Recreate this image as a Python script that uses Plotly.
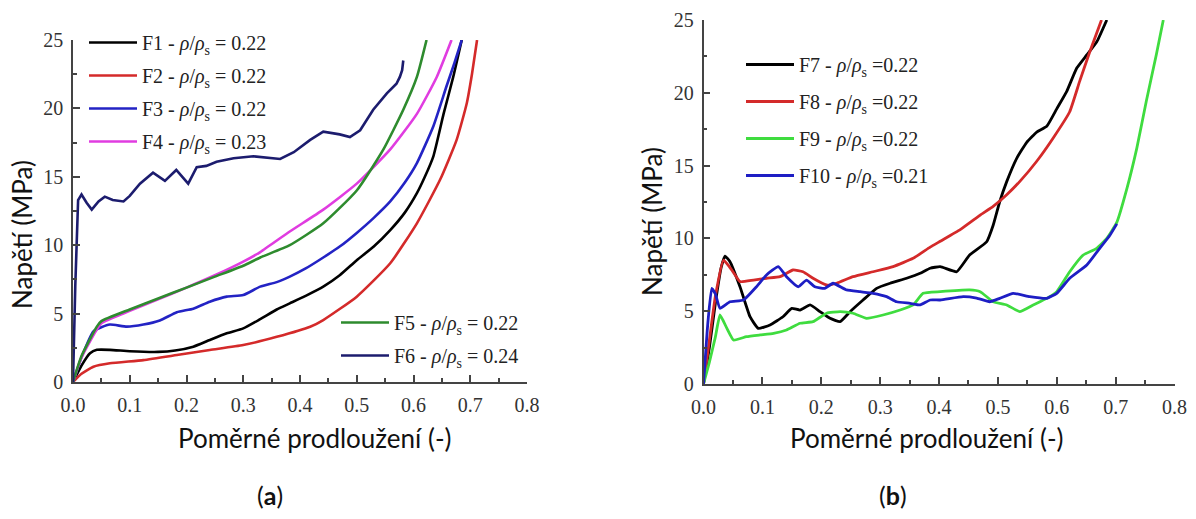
import plotly.graph_objects as go

W, H = 1196, 519

# ---------------- Panel (a) data ----------------
F1_x = [0, 0.015, 0.03, 0.042, 0.065, 0.1, 0.15, 0.18, 0.212, 0.241, 0.271, 0.3, 0.33, 0.359, 0.382, 0.41, 0.441, 0.47, 0.5, 0.53, 0.559, 0.585, 0.606, 0.62, 0.635, 0.653, 0.67, 0.685]
F1_y = [0, 1.2, 2.1, 2.35, 2.35, 2.25, 2.2, 2.3, 2.58, 3.07, 3.56, 3.92, 4.6, 5.3, 5.75, 6.3, 6.97, 7.8, 8.9, 9.9, 11.1, 12.4, 13.8, 15.0, 16.5, 19.6, 22.3, 25]

F2_x = [0, 0.015, 0.036, 0.065, 0.124, 0.183, 0.241, 0.3, 0.359, 0.418, 0.441, 0.5, 0.559, 0.606, 0.647, 0.676, 0.694, 0.703, 0.712]
F2_y = [0, 0.6, 1.12, 1.37, 1.6, 1.97, 2.34, 2.7, 3.3, 4.04, 4.53, 6.24, 8.68, 11.6, 14.8, 17.7, 20.4, 22.5, 25]

F3_x = [0, 0.015, 0.036, 0.05, 0.065, 0.095, 0.124, 0.153, 0.183, 0.212, 0.241, 0.271, 0.3, 0.33, 0.359, 0.382, 0.41, 0.441, 0.47, 0.5, 0.53, 0.559, 0.585, 0.606, 0.635, 0.658, 0.672, 0.685]
F3_y = [0, 1.8, 3.7, 4.0, 4.2, 4.05, 4.2, 4.5, 5.1, 5.36, 5.87, 6.24, 6.36, 6.97, 7.3, 7.7, 8.3, 9.1, 9.9, 10.9, 12.0, 13.2, 14.6, 16.0, 18.7, 21.6, 23.3, 25]

F4_x = [0, 0.015, 0.04, 0.05, 0.1, 0.15, 0.2, 0.25, 0.3, 0.33, 0.382, 0.441, 0.5, 0.559, 0.606, 0.641, 0.667]
F4_y = [0, 1.8, 3.7, 4.3, 5.2, 6.05, 6.9, 7.8, 8.8, 9.5, 11.0, 12.6, 14.5, 17.0, 19.6, 22.3, 25]

F5_x = [0, 0.015, 0.042, 0.05, 0.1, 0.15, 0.2, 0.25, 0.3, 0.33, 0.382, 0.441, 0.5, 0.547, 0.582, 0.606, 0.623]
F5_y = [0, 1.9, 4.05, 4.45, 5.3, 6.1, 6.9, 7.7, 8.5, 9.1, 10.0, 11.6, 14.0, 17.0, 19.9, 22.3, 25]

F6_x = [0, 0.004, 0.009, 0.015, 0.024, 0.033, 0.045, 0.056, 0.07, 0.089, 0.1, 0.118, 0.141, 0.162, 0.182, 0.203, 0.218, 0.235, 0.253, 0.283, 0.318, 0.345, 0.365, 0.389, 0.418, 0.441, 0.47, 0.488, 0.506, 0.529, 0.553, 0.57, 0.576, 0.58, 0.582]
F6_y = [0, 7, 13.3, 13.7, 13.1, 12.6, 13.2, 13.55, 13.3, 13.2, 13.6, 14.5, 15.3, 14.7, 15.5, 14.5, 15.7, 15.8, 16.1, 16.35, 16.5, 16.4, 16.3, 16.8, 17.7, 18.3, 18.1, 17.9, 18.4, 19.9, 21.1, 21.8, 22.3, 22.8, 23.5]

# ---------------- Panel (b) data ----------------
F7_x = [0, 0.01, 0.02, 0.03, 0.0365, 0.045, 0.062, 0.079, 0.093, 0.113, 0.135, 0.150, 0.164, 0.181, 0.198, 0.215, 0.232, 0.249, 0.271, 0.294, 0.317, 0.345, 0.368, 0.385, 0.402, 0.430, 0.452, 0.481, 0.492, 0.503, 0.515, 0.532, 0.549, 0.566, 0.583, 0.600, 0.617, 0.634, 0.651, 0.668, 0.685]
F7_y = [0, 2.5, 5.5, 8.0, 8.79, 8.4, 6.68, 4.62, 3.82, 4.05, 4.62, 5.2, 5.08, 5.43, 4.97, 4.51, 4.28, 4.97, 5.77, 6.57, 6.92, 7.26, 7.6, 7.95, 8.06, 7.71, 8.86, 9.77, 10.9, 12.5, 13.9, 15.5, 16.6, 17.3, 17.7, 18.9, 20.1, 21.7, 22.6, 23.5, 25]

F8_x = [0, 0.01, 0.02, 0.034, 0.048, 0.062, 0.085, 0.107, 0.130, 0.152, 0.169, 0.186, 0.209, 0.226, 0.254, 0.288, 0.322, 0.356, 0.385, 0.402, 0.436, 0.470, 0.492, 0.515, 0.537, 0.566, 0.594, 0.622, 0.639, 0.656, 0.676]
F8_y = [0, 3.0, 6.0, 8.5, 7.83, 7.03, 7.14, 7.26, 7.37, 7.83, 7.71, 7.26, 6.8, 6.92, 7.37, 7.71, 8.06, 8.63, 9.4, 9.8, 10.6, 11.6, 12.2, 13.0, 13.9, 15.3, 16.9, 18.7, 20.8, 22.8, 25]

F9_x = [0, 0.01, 0.02, 0.028, 0.04, 0.051, 0.073, 0.096, 0.119, 0.141, 0.164, 0.186, 0.209, 0.232, 0.254, 0.277, 0.305, 0.334, 0.356, 0.373, 0.402, 0.452, 0.470, 0.492, 0.515, 0.537, 0.560, 0.583, 0.600, 0.622, 0.645, 0.668, 0.685, 0.702, 0.719, 0.736, 0.752, 0.769, 0.781]
F9_y = [0, 1.5, 3.2, 4.74, 3.8, 3.02, 3.25, 3.37, 3.48, 3.71, 4.17, 4.28, 4.86, 4.97, 4.86, 4.51, 4.74, 5.08, 5.43, 6.23, 6.34, 6.46, 6.34, 5.65, 5.43, 4.97, 5.43, 5.88, 6.34, 7.71, 8.86, 9.32, 10.0, 11.1, 13.4, 16.2, 19.4, 22.6, 25]

F10_x = [0, 0.007, 0.014, 0.02, 0.028, 0.045, 0.068, 0.090, 0.107, 0.127, 0.141, 0.161, 0.175, 0.189, 0.206, 0.220, 0.243, 0.266, 0.288, 0.311, 0.328, 0.351, 0.368, 0.385, 0.402, 0.441, 0.464, 0.486, 0.503, 0.526, 0.554, 0.583, 0.600, 0.622, 0.651, 0.673, 0.690, 0.702]
F10_y = [0, 4.0, 6.57, 6.2, 5.2, 5.65, 5.77, 6.68, 7.49, 8.06, 7.37, 6.68, 7.14, 6.68, 6.57, 6.92, 6.46, 6.34, 6.23, 6.0, 5.65, 5.54, 5.43, 5.77, 5.77, 6.0, 5.9, 5.65, 5.88, 6.23, 6.0, 5.88, 6.23, 7.26, 8.17, 9.32, 10.2, 11.0]

x_ticks = [0.0, 0.1, 0.2, 0.3, 0.4, 0.5, 0.6, 0.7, 0.8]
y_ticks = [0, 5, 10, 15, 20, 25]

RHO = "<i>ρ</i>/<i>ρ</i><sub>s</sub>"
names_a = ["F1 - " + RHO + " = 0.22", "F2 - " + RHO + " = 0.22", "F3 - " + RHO + " = 0.22",
           "F4 - " + RHO + " = 0.23", "F5 - " + RHO + " = 0.22", "F6 - " + RHO + " = 0.24"]
names_b = ["F7 - " + RHO + " =0.22", "F8 - " + RHO + " =0.22", "F9 - " + RHO + " =0.22",
           "F10 - " + RHO + " =0.21"]

colors_a = ["#000000", "#d42a2a", "#2323c4", "#e03ce0", "#2e8b2e", "#1c1c6e"]
colors_b = ["#000000", "#d42a2a", "#3fdc3f", "#1e1ec4"]

fig = go.Figure()

series_a = [(F1_x, F1_y), (F2_x, F2_y), (F3_x, F3_y), (F4_x, F4_y), (F5_x, F5_y), (F6_x, F6_y)]
legends_a = ["legend", "legend", "legend", "legend", "legend2", "legend2"]
for i, (xs, ys) in enumerate(series_a):
    shape = "linear" if i == 5 else "spline"
    fig.add_trace(go.Scatter(x=xs, y=ys, mode="lines", name=names_a[i],
                             line=dict(color=colors_a[i], width=2.6, shape=shape, smoothing=0.5),
                             xaxis="x", yaxis="y", legend=legends_a[i],
                             legendgroup="a%d" % i))

series_b = [(F7_x, F7_y), (F8_x, F8_y), (F9_x, F9_y), (F10_x, F10_y)]
for i, (xs, ys) in enumerate(series_b):
    fig.add_trace(go.Scatter(x=xs, y=ys, mode="lines", name=names_b[i],
                             line=dict(color=colors_b[i], width=2.8, shape="spline", smoothing=0.4),
                             xaxis="x2", yaxis="y2", legend="legend3",
                             legendgroup="b%d" % i))

AX = "#444444"
tickfont = dict(family="Liberation Serif", size=20, color="#333333")


def xaxis(domain, anchor):
    return dict(domain=domain, anchor=anchor, range=[0, 0.8], tickvals=x_ticks,
                ticktext=["%.1f" % v for v in x_ticks], automargin=False,
                showline=True, linecolor=AX, linewidth=1.5, ticks="inside", ticklen=7,
                tickwidth=1.5, tickcolor=AX, showgrid=False, zeroline=False,
                minor=dict(ticks="inside", ticklen=4, tickwidth=1.5, tickcolor=AX,
                           tickvals=[0.05, 0.15, 0.25, 0.35, 0.45, 0.55, 0.65, 0.75]),
                tickfont=tickfont, ticklabelstandoff=4, fixedrange=True)


def yaxis(domain, anchor):
    return dict(domain=domain, anchor=anchor, range=[0, 25], tickvals=y_ticks,
                automargin=False,
                showline=True, linecolor=AX, linewidth=1.5, ticks="inside", ticklen=7,
                tickwidth=1.5, tickcolor=AX, showgrid=False, zeroline=False,
                minor=dict(ticks="inside", ticklen=4, tickwidth=1.5, tickcolor=AX,
                           tickvals=[2.5, 7.5, 12.5, 17.5, 22.5]),
                tickfont=tickfont, ticklabelstandoff=4, fixedrange=True)


legfont = dict(family="Liberation Serif", size=20, color="#222222")
fig.update_layout(
    width=W, height=H,
    margin=dict(l=0, r=0, t=0, b=0, autoexpand=False),
    paper_bgcolor="white", plot_bgcolor="white",
    xaxis=xaxis([73 / W, 527 / W], "y"),
    yaxis=yaxis([1 - 382 / H, 1 - 40 / H], "x"),
    xaxis2=xaxis([703.5 / W, 1174.5 / W], "y2"),
    yaxis2=yaxis([1 - 384 / H, 1 - 20 / H], "x2"),
    legend=dict(x=84 / W, y=1 - 23 / H, xanchor="left", yanchor="top", font=legfont,
                bgcolor="rgba(0,0,0,0)", tracegroupgap=4, itemwidth=48),
    legend2=dict(x=336 / W, y=1 - 303 / H, xanchor="left", yanchor="top", font=legfont,
                 bgcolor="rgba(0,0,0,0)", tracegroupgap=4, itemwidth=48),
    legend3=dict(x=741 / W, y=1 - 45 / H, xanchor="left", yanchor="top", font=legfont,
                 bgcolor="rgba(0,0,0,0)", tracegroupgap=8, itemwidth=48),
    showlegend=True,
)

title_font = dict(family="Lato", size=26, color="#111111")
ann = [
    dict(text="Napětí (MPa)", x=22 / W, y=1 - 235 / H, textangle=-90, font=title_font),
    dict(text="Napětí (MPa)", x=652 / W, y=1 - 222 / H, textangle=-90, font=title_font),
    dict(text="Poměrné prodloužení (-)", x=315 / W, y=1 - 438 / H, font=title_font),
    dict(text="Poměrné prodloužení (-)", x=927 / W, y=1 - 438 / H, font=title_font),
    dict(text="(<b>a</b>)", x=270 / W, y=1 - 495 / H, font=dict(family="Lato", size=25, color="#111111")),
    dict(text="(<b>b</b>)", x=893 / W, y=1 - 495 / H, font=dict(family="Lato", size=25, color="#111111")),
]
for a in ann:
    a.update(xref="paper", yref="paper", showarrow=False, xanchor="center", yanchor="middle")
fig.update_layout(annotations=ann)

fig.write_html("out.html", config={"displayModeBar": False},
               post_script="document.body.style.margin='0';")
